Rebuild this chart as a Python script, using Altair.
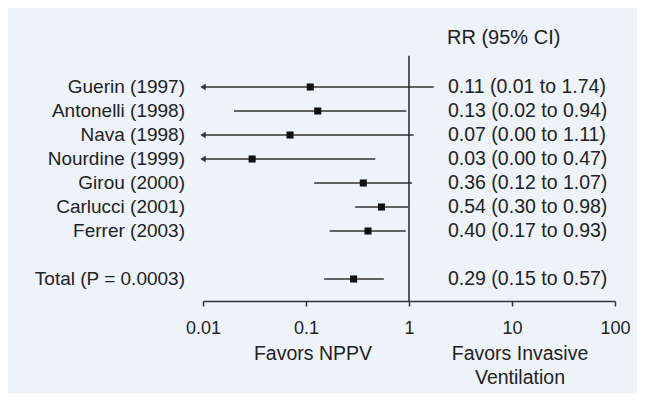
import altair as alt
import pandas as pd

studies = ["Guerin (1997)", "Antonelli (1998)", "Nava (1998)", "Nourdine (1999)",
           "Girou (2000)", "Carlucci (2001)", "Ferrer (2003)", "Total (P = 0.0003)"]
rr = [0.11, 0.13, 0.07, 0.03, 0.36, 0.54, 0.40, 0.29]
lo = [0.01, 0.02, 0.00, 0.00, 0.12, 0.30, 0.17, 0.15]
hi = [1.74, 0.94, 1.11, 0.47, 1.07, 0.98, 0.93, 0.57]
rows = [0, 1, 2, 3, 4, 5, 6, 8]
tick_values = [0.01, 0.1, 1, 10, 100]

XMIN, XMAX = 0.01, 100
df = pd.DataFrame({
    "study": studies, "rr": rr, "lo": lo, "hi": hi, "row": rows,
})
df["lo_plot"] = df["lo"].clip(lower=XMIN)
df["arrow"] = df["lo"] <= XMIN
df["label"] = [f"{r:.2f} ({l:.2f} to {h:.2f})" for r, l, h in zip(rr, lo, hi)]

FONT = "Liberation Sans"
TXT = "#222222"
LINE = "#333333"

xscale = alt.Scale(type="log", domain=[XMIN, XMAX], nice=False)
yscale = alt.Scale(domain=[-2.5, 8.9167], reverse=True, nice=False, zero=False)

base = alt.Chart(df)

xaxis = alt.Axis(values=tick_values, format="~g", title=None, grid=False,
                 tickSize=5, tickWidth=1.5, tickColor="#333", domainColor="#333",
                 domainWidth=1.5, labelFont=FONT, labelFontSize=18, labelColor=TXT,
                 labelPadding=13, labelFlush=False, labelOverlap=False)

ci = base.mark_rule(color=LINE, strokeWidth=1.6).encode(
    x=alt.X("lo_plot:Q", scale=xscale, axis=xaxis),
    x2="hi:Q",
    y=alt.Y("row:Q", scale=yscale, axis=None),
)

arrows = base.transform_filter("datum.arrow").mark_point(
    shape="triangle-left", filled=True, color=LINE, size=40, opacity=1
).encode(x=alt.X("lo_plot:Q", scale=xscale), y=alt.Y("row:Q", scale=yscale))

squares = base.mark_square(color="#111111", size=50, opacity=1).encode(
    x=alt.X("rr:Q", scale=xscale), y=alt.Y("row:Q", scale=yscale))

ref_df = pd.DataFrame({"x": [1], "y": [-1.3], "y2": [8.9167]})
ref = alt.Chart(ref_df).mark_rule(color="#222", strokeWidth=1.5).encode(
    x=alt.X("x:Q", scale=xscale), y=alt.Y("y:Q", scale=yscale), y2="y2:Q")

left_labels = base.mark_text(align="right", baseline="middle", font=FONT,
                             fontSize=19, color=TXT).encode(
    x=alt.value(-18), y=alt.Y("row:Q", scale=yscale), text="study:N")

right_labels = base.mark_text(align="left", baseline="middle", font=FONT,
                              fontSize=19.5, color=TXT).encode(
    x=alt.value(245), y=alt.Y("row:Q", scale=yscale), text="label:N")

hdr_df = pd.DataFrame({"t": ["RR (95% CI)"]})
header = alt.Chart(hdr_df).mark_text(align="left", baseline="middle", font=FONT,
                                     fontSize=20, color=TXT).encode(
    x=alt.value(244), y=alt.value(11), text="t:N")

fav_df = pd.DataFrame({
    "t": ["Favors NPPV", "Favors Invasive", "Ventilation"],
    "px": [110, 317, 317],
    "py": [327, 327, 351],
})
favors = alt.Chart(fav_df).mark_text(align="center", baseline="middle", font=FONT,
                                     fontSize=19.5, color=TXT).encode(
    x=alt.X("px:Q", scale=None), y=alt.Y("py:Q", scale=None), text="t:N")

chart = alt.layer(ci, ref, arrows, squares, left_labels, right_labels, header, favors).properties(
    width=412, height=274,
    autosize=alt.AutoSizeParams(type="none"),
    padding={"left": 195, "top": 19, "right": 22, "bottom": 92},
    background="#EEF3FA",
).configure_view(stroke=None)

chart.save("out.html", embed_options={"renderer": "svg", "actions": False})
